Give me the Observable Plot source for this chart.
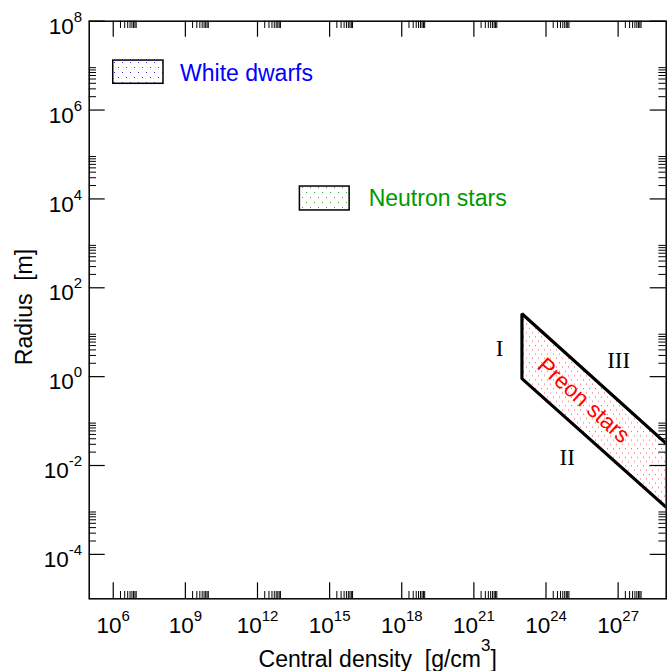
<!DOCTYPE html>
<html><head><meta charset="utf-8">
<script src="https://cdn.jsdelivr.net/npm/d3@7"></script>
<script src="https://cdn.jsdelivr.net/npm/@observablehq/plot@0.6"></script>
<style>body{margin:0;background:#fff} svg{display:block}</style>
</head><body><div id="chart"></div>
<script>
// ---- tick data ----
const xMajorExponents = [6, 9, 12, 15, 18, 21, 24, 27];
const yMajorExponents = [-4, -2, 0, 2, 4, 6, 8];
const yMinorExponents = [-4, -2, 0, 2, 4, 6];
const minorMultipliers = [2, 3, 4, 5, 6, 7, 8, 9];

// ---- regions (density g/cm^3, radius m) ----
const regionNames = ["White dwarfs", "Neutron stars"];
const regionX1 = [1e6, 5.8e13];
const regionX2 = [1.23e8, 6.8e15];
const regionY1 = [3.9e6, 5.5e3];
const regionY2 = [1.3e7, 1.9e4];
const regionLabelX = [6e8, 4.2e16];
const regionLabelY = [6.5e6, 1.0e4];
const regionColors = ["#0000ff", "#009900"];
const regionPatterns = ["wdDots", "nsDots"];

// ---- preon star band ----
const preonDensity = [1e23, 1e29];
const preonRadiusLower = [0.9, 0.00115];  // boundary II
const preonRadiusUpper = [26, 0.031];     // boundary III
const preonLabel = "Preon stars";
const preonLabelX = 3.7e25;
const preonLabelY = 0.29;

// ---- boundary labels ----
const boundaryNames = ["I", "II", "III"];
const boundaryLabelX = [1.17e22, 7.6e24, 1.05e27];
const boundaryLabelY = [4.24, 0.0154, 2.3];

// ---- layout ----
const WIDTH = 668, HEIGHT = 671;
const ML = 88.7, MR = 2.3, MT = 20.7, MB = 72.7;
const PW = WIDTH - ML - MR, PH = HEIGHT - MT - MB;
const MAJOR = 16, MINOR = 7.3;

const xMajor = xMajorExponents.map(e => 10 ** e);
const xMinor = xMajorExponents.flatMap(e => minorMultipliers.map(m => m * 10 ** e));
const yMajor = yMajorExponents.map(e => 10 ** e);
const yMinor = yMinorExponents.flatMap(e => minorMultipliers.map(m => m * 10 ** e));

const regions = regionNames.map((name, i) => ({
  name, x1: regionX1[i], x2: regionX2[i], y1: regionY1[i], y2: regionY2[i],
  lx: regionLabelX[i], ly: regionLabelY[i]
}));
const preonRows = preonDensity.map((x, i) => ({x, lo: preonRadiusLower[i], hi: preonRadiusUpper[i]}));
const outlineRows = [
  {x: preonDensity[1], y: preonRadiusUpper[1]},
  {x: preonDensity[0], y: preonRadiusUpper[0]},
  {x: preonDensity[0], y: preonRadiusLower[0]},
  {x: preonDensity[1], y: preonRadiusLower[1]}
];
const boundaries = boundaryNames.map((t, i) => ({t, x: boundaryLabelX[i], y: boundaryLabelY[i]}));

const font = "'Liberation Sans', Arial, Helvetica, sans-serif";

const marks = [
  Plot.areaY(preonRows, {x: "x", y1: "lo", y2: "hi", fill: "url(#preonDots)", clip: true}),
  ...regions.map((r, i) => Plot.rect([r], {x1: "x1", x2: "x2", y1: "y1", y2: "y2",
    fill: `url(#${regionPatterns[i]})`, stroke: "black", strokeWidth: 1.5})),
  ...regions.map((r, i) => Plot.text([r], {x: "lx", y: "ly", text: "name", fill: regionColors[i],
    textAnchor: "start", lineAnchor: "middle", fontSize: 23})),
  Plot.line(outlineRows, {x: "x", y: "y", stroke: "black", strokeWidth: 3.2,
    strokeLinejoin: "miter", strokeLinecap: "butt", clip: true}),
  Plot.text([preonLabel], {x: () => preonLabelX, y: () => preonLabelY, text: d => d, fill: "#ff0000",
    rotate: 42, fontSize: 22.5, textAnchor: "middle", lineAnchor: "middle"}),
  Plot.text(boundaries, {x: "x", y: "y", text: "t", fontFamily: "'Liberation Serif', 'Times New Roman', serif",
    fontSize: 23, textAnchor: "middle", lineAnchor: "middle", fill: "black"}),
  Plot.frame({stroke: "black", strokeWidth: 1.5}),
  // x ticks bottom & top
  Plot.ruleX(xMajor, {stroke: "black", strokeWidth: 1.2, insetTop: PH - MAJOR}),
  Plot.ruleX(xMinor, {stroke: "black", strokeWidth: 1, insetTop: PH - MINOR}),
  Plot.ruleX(xMajor, {stroke: "black", strokeWidth: 1.2, insetBottom: PH - MAJOR}),
  Plot.ruleX(xMinor, {stroke: "black", strokeWidth: 1, insetBottom: PH - MINOR}),
  // y ticks left & right
  Plot.ruleY(yMajor, {stroke: "black", strokeWidth: 1.2, insetRight: PW - MAJOR}),
  Plot.ruleY(yMinor, {stroke: "black", strokeWidth: 1, insetRight: PW - MINOR}),
  Plot.ruleY(yMajor, {stroke: "black", strokeWidth: 1.2, insetLeft: PW - MAJOR}),
  Plot.ruleY(yMinor, {stroke: "black", strokeWidth: 1, insetLeft: PW - MINOR}),
  // tick labels
  Plot.text(xMajorExponents, {x: e => 10 ** e, frameAnchor: "bottom", dy: 33.7, lineAnchor: "bottom",
    textAnchor: "middle", text: e => `10^${e}`, fontSize: 22.5, fill: "black"}),
  Plot.text(yMajorExponents, {y: e => 10 ** e, frameAnchor: "left", dx: -7, dy: 12.6, lineAnchor: "bottom",
    textAnchor: "end", text: e => `10^${e}`, fontSize: 22.5, fill: "black"}),
  // axis titles
  Plot.text(["Central density\u00a0 [g/cm^3]"], {frameAnchor: "bottom", dy: 68.5, lineAnchor: "bottom",
    textAnchor: "middle", text: d => d, fontSize: 23, fill: "black"}),
  Plot.text(["Radius\u00a0 [m]"], {frameAnchor: "left", dx: -57, dy: -3, rotate: -90, lineAnchor: "bottom",
    textAnchor: "middle", text: d => d, fontSize: 23, fill: "black"})
];

const chart = Plot.plot({
  width: WIDTH, height: HEIGHT,
  marginLeft: ML, marginRight: MR, marginTop: MT, marginBottom: MB,
  x: {type: "log", domain: [1e5, 1e29], axis: null},
  y: {type: "log", domain: [1e-5, 1e8], axis: null},
  style: {fontFamily: font, fontSize: "22px", background: "white", color: "black"},
  marks
});

// patterns
const svg = d3.select(chart);
const defs = svg.insert("defs", ":first-child");
function dotPattern(id, color, w, h, pts) {
  const p = defs.append("pattern").attr("id", id).attr("patternUnits", "userSpaceOnUse")
    .attr("width", w).attr("height", h);
  p.append("rect").attr("width", w).attr("height", h).attr("fill", "white");
  pts.forEach(([x, y]) => p.append("rect").attr("x", x).attr("y", y).attr("width", 1).attr("height", 1).attr("fill", color));
}
dotPattern("wdDots", "#3030ff", 8, 10, [[2, 2], [6, 7]]);
dotPattern("nsDots", "#30b030", 8, 10, [[2, 2], [6, 7]]);
dotPattern("preonDots", "#ff5050", 6, 8.6, [[1, 1], [4, 5.3]]);

// superscripts
svg.selectAll("text").each(function () {
  const s = this.textContent;
  let m = s.match(/^10\^(-?\d+)$/);
  if (m) {
    const t = d3.select(this);
    this.textContent = "";
    t.append("tspan").text("10");
    t.append("tspan").attr("dy", -12).attr("font-size", 15).text(m[1]);
    return;
  }
  m = s.match(/^(.*)\^(\d)\]$/);
  if (m) {
    const t = d3.select(this);
    this.textContent = "";
    t.append("tspan").text(m[1]);
    t.append("tspan").attr("dy", -16).attr("font-size", 17).text(m[2]);
    t.append("tspan").attr("dy", 16).text("]");
  }
});

document.getElementById("chart").appendChild(chart);
</script>
</body></html>
